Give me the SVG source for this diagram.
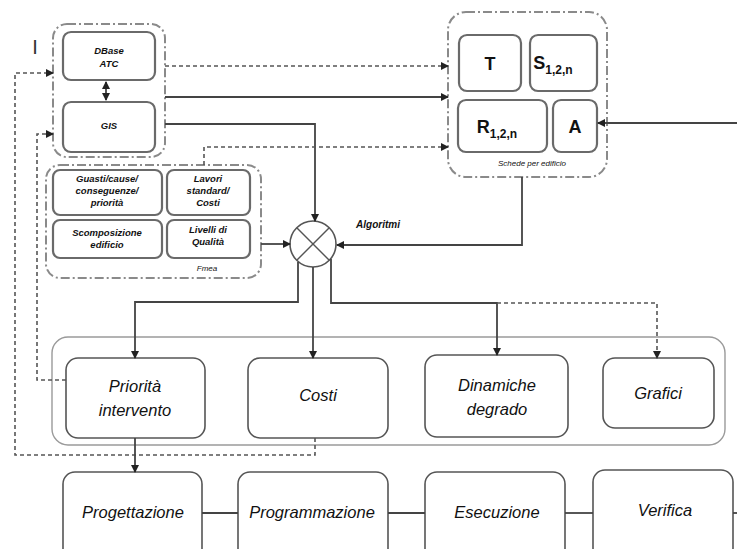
<svg xmlns="http://www.w3.org/2000/svg" width="737" height="549" viewBox="0 0 737 549">
<defs>
<marker id="ah" markerWidth="8" markerHeight="8" refX="7" refY="4" orient="auto" markerUnits="userSpaceOnUse">
<path d="M0,0 L8,4 L0,8 Z" fill="#222"/>
</marker>
<marker id="ahs" markerWidth="8" markerHeight="8" refX="1" refY="4" orient="auto" markerUnits="userSpaceOnUse">
<path d="M8,0 L0,4 L8,8 Z" fill="#222"/>
</marker>
<style>
.grp{fill:none;stroke:#8a8a8a;stroke-width:2;stroke-dasharray:9 3 2 3}
.ib{fill:#fff;stroke:#6a6a6a;stroke-width:2.2}
.bb{fill:#fff;stroke:#555;stroke-width:1.6}
.cont{fill:none;stroke:#9a9a9a;stroke-width:1.4}
.s{fill:none;stroke:#444;stroke-width:1.8}
.d{fill:none;stroke:#555;stroke-width:1.6;stroke-dasharray:4 3}
.sm{font-family:"Liberation Sans",Arial,sans-serif;font-size:9.5px;font-weight:bold;font-style:italic;fill:#111;text-anchor:middle}
.big{font-family:"Liberation Sans",Arial,sans-serif;font-size:16.5px;font-style:italic;fill:#111;text-anchor:middle}
.let{font-family:"Liberation Sans",Arial,sans-serif;font-size:18px;font-weight:bold;fill:#111;text-anchor:middle}
.cap{font-family:"Liberation Sans",Arial,sans-serif;font-size:8px;font-style:italic;fill:#111;text-anchor:middle}
</style>
</defs>
<rect width="737" height="549" fill="#fff"/>

<text x="35" y="54" style="font-family:'Liberation Sans',Arial,sans-serif;font-size:20px;fill:#333" text-anchor="middle">I</text>

<g id="grp-data">
<rect class="grp" x="53" y="24" width="112" height="133" rx="14"/>
</g>
<g id="dbase">
<rect class="ib" x="63" y="32" width="92" height="48" rx="8"/>
<text class="sm" x="109" y="54">DBase</text>
<text class="sm" x="109" y="67">ATC</text>
</g>
<g id="gis">
<rect class="ib" x="63" y="102" width="92" height="50" rx="8"/>
<text class="sm" x="109" y="129">GIS</text>
</g>

<g id="grp-fmea">
<rect class="grp" x="46" y="165" width="215" height="113" rx="14"/>
<text class="cap" x="207" y="271">Fmea</text>
</g>
<g id="guasti">
<rect class="ib" x="53" y="170" width="109" height="45" rx="7"/>
<text class="sm" x="107" y="182">Guasti/cause/</text>
<text class="sm" x="107" y="194">conseguenze/</text>
<text class="sm" x="107" y="206">priorità</text>
</g>
<g id="lavori">
<rect class="ib" x="167" y="170" width="83" height="45" rx="7"/>
<text class="sm" x="208" y="182">Lavori</text>
<text class="sm" x="208" y="194">standard/</text>
<text class="sm" x="208" y="206">Costi</text>
</g>
<g id="scomposizione">
<rect class="ib" x="53" y="220" width="109" height="38" rx="7"/>
<text class="sm" x="107" y="236">Scomposizione</text>
<text class="sm" x="107" y="248">edificio</text>
</g>
<g id="livelli">
<rect class="ib" x="167" y="220" width="83" height="38" rx="7"/>
<text class="sm" x="208" y="233">Livelli di</text>
<text class="sm" x="208" y="245">Qualità</text>
</g>

<g id="grp-schede">
<rect class="grp" x="448" y="12" width="159" height="165" rx="18"/>
<text class="cap" x="532" y="166">Schede per edificio</text>
</g>
<g id="T">
<rect class="ib" x="459" y="35" width="62" height="56" rx="8"/>
<text class="let" x="490" y="70">T</text>
</g>
<g id="S">
<rect class="ib" x="530" y="35" width="67" height="56" rx="8"/>
<text class="let" x="553" y="69">S<tspan font-size="12" dy="5">1,2,n</tspan></text>
</g>
<g id="R">
<rect class="ib" x="458" y="100" width="89" height="52" rx="8"/>
<text class="let" x="497" y="133">R<tspan font-size="12" dy="5">1,2,n</tspan></text>
</g>
<g id="A">
<rect class="ib" x="553" y="100" width="44" height="52" rx="8"/>
<text class="let" x="575" y="133">A</text>
</g>

<g id="algoritmi">
<circle cx="313" cy="244" r="23" fill="#fff" stroke="#555" stroke-width="1.6"/>
<line x1="297" y1="228" x2="329" y2="260" stroke="#555" stroke-width="1.4"/>
<line x1="329" y1="228" x2="297" y2="260" stroke="#555" stroke-width="1.4"/>
<text x="378" y="228" style="font-family:'Liberation Sans',Arial,sans-serif;font-size:10px;font-weight:bold;font-style:italic;fill:#111" text-anchor="middle">Algoritmi</text>
</g>

<g id="container">
<rect class="cont" x="52" y="337" width="673" height="108" rx="16"/>
</g>
<g id="priorita">
<rect class="bb" x="66" y="358" width="139" height="80" rx="12"/>
<text class="big" x="135" y="392">Priorità</text>
<text class="big" x="135" y="416">intervento</text>
</g>
<g id="costi">
<rect class="bb" x="248" y="358" width="140" height="80" rx="12"/>
<text class="big" x="318" y="401">Costi</text>
</g>
<g id="dinamiche">
<rect class="bb" x="425" y="355" width="143" height="82" rx="12"/>
<text class="big" x="497" y="391">Dinamiche</text>
<text class="big" x="497" y="415">degrado</text>
</g>
<g id="grafici">
<rect class="bb" x="603" y="358" width="111" height="70" rx="12"/>
<text class="big" x="658" y="399">Grafici</text>
</g>

<g id="progettazione">
<rect class="bb" x="63" y="472" width="139" height="90" rx="12"/>
<text class="big" x="133" y="518">Progettazione</text>
</g>
<g id="programmazione">
<rect class="bb" x="238" y="472" width="150" height="90" rx="12"/>
<text class="big" x="312" y="518" font-size="13.5">Programmazione</text>
</g>
<g id="esecuzione">
<rect class="bb" x="425" y="472" width="140" height="90" rx="12"/>
<text class="big" x="497" y="518">Esecuzione</text>
</g>
<g id="verifica">
<rect class="bb" x="593" y="470" width="140" height="90" rx="12"/>
<text class="big" x="665" y="516">Verifica</text>
</g>

<g id="connectors">
<line class="s" x1="106" y1="82" x2="106" y2="100" marker-start="url(#ahs)" marker-end="url(#ah)"/>
<line class="d" x1="165" y1="66" x2="448" y2="66" marker-end="url(#ah)"/>
<line class="s" x1="165" y1="97" x2="448" y2="97" marker-end="url(#ah)"/>
<polyline class="s" points="165,124 315,124 315,221" marker-end="url(#ah)"/>
<polyline class="d" points="204,165 204,147 448,147" marker-end="url(#ah)"/>
<line class="s" x1="261" y1="244" x2="290" y2="244" marker-end="url(#ah)"/>
<polyline class="s" points="522,177 522,245 337,245" marker-end="url(#ah)"/>
<line class="s" x1="737" y1="123" x2="598" y2="123" marker-end="url(#ah)" stroke="#777"/>
<polyline class="s" points="298,262 298,302 135,302 135,358" marker-end="url(#ah)"/>
<line class="s" x1="313" y1="267" x2="313" y2="358" marker-end="url(#ah)"/>
<polyline class="s" points="331,259 331,303 497,303 497,355" marker-end="url(#ah)"/>
<polyline class="d" points="497,303 657,303 657,358" marker-end="url(#ah)"/>
<polyline class="d" points="315,438 315,455 15,455 15,73 53,73" marker-end="url(#ah)"/>
<polyline class="d" points="66,380 37,380 37,134 53,134" marker-end="url(#ah)"/>
<line class="s" x1="135" y1="438" x2="135" y2="472" marker-end="url(#ah)"/>
<line class="s" x1="202" y1="513" x2="238" y2="513"/>
<line class="s" x1="388" y1="513" x2="425" y2="513"/>
<line class="s" x1="565" y1="513" x2="593" y2="513"/>
<line class="s" x1="733" y1="513" x2="737" y2="513"/>
</g>
</svg>
